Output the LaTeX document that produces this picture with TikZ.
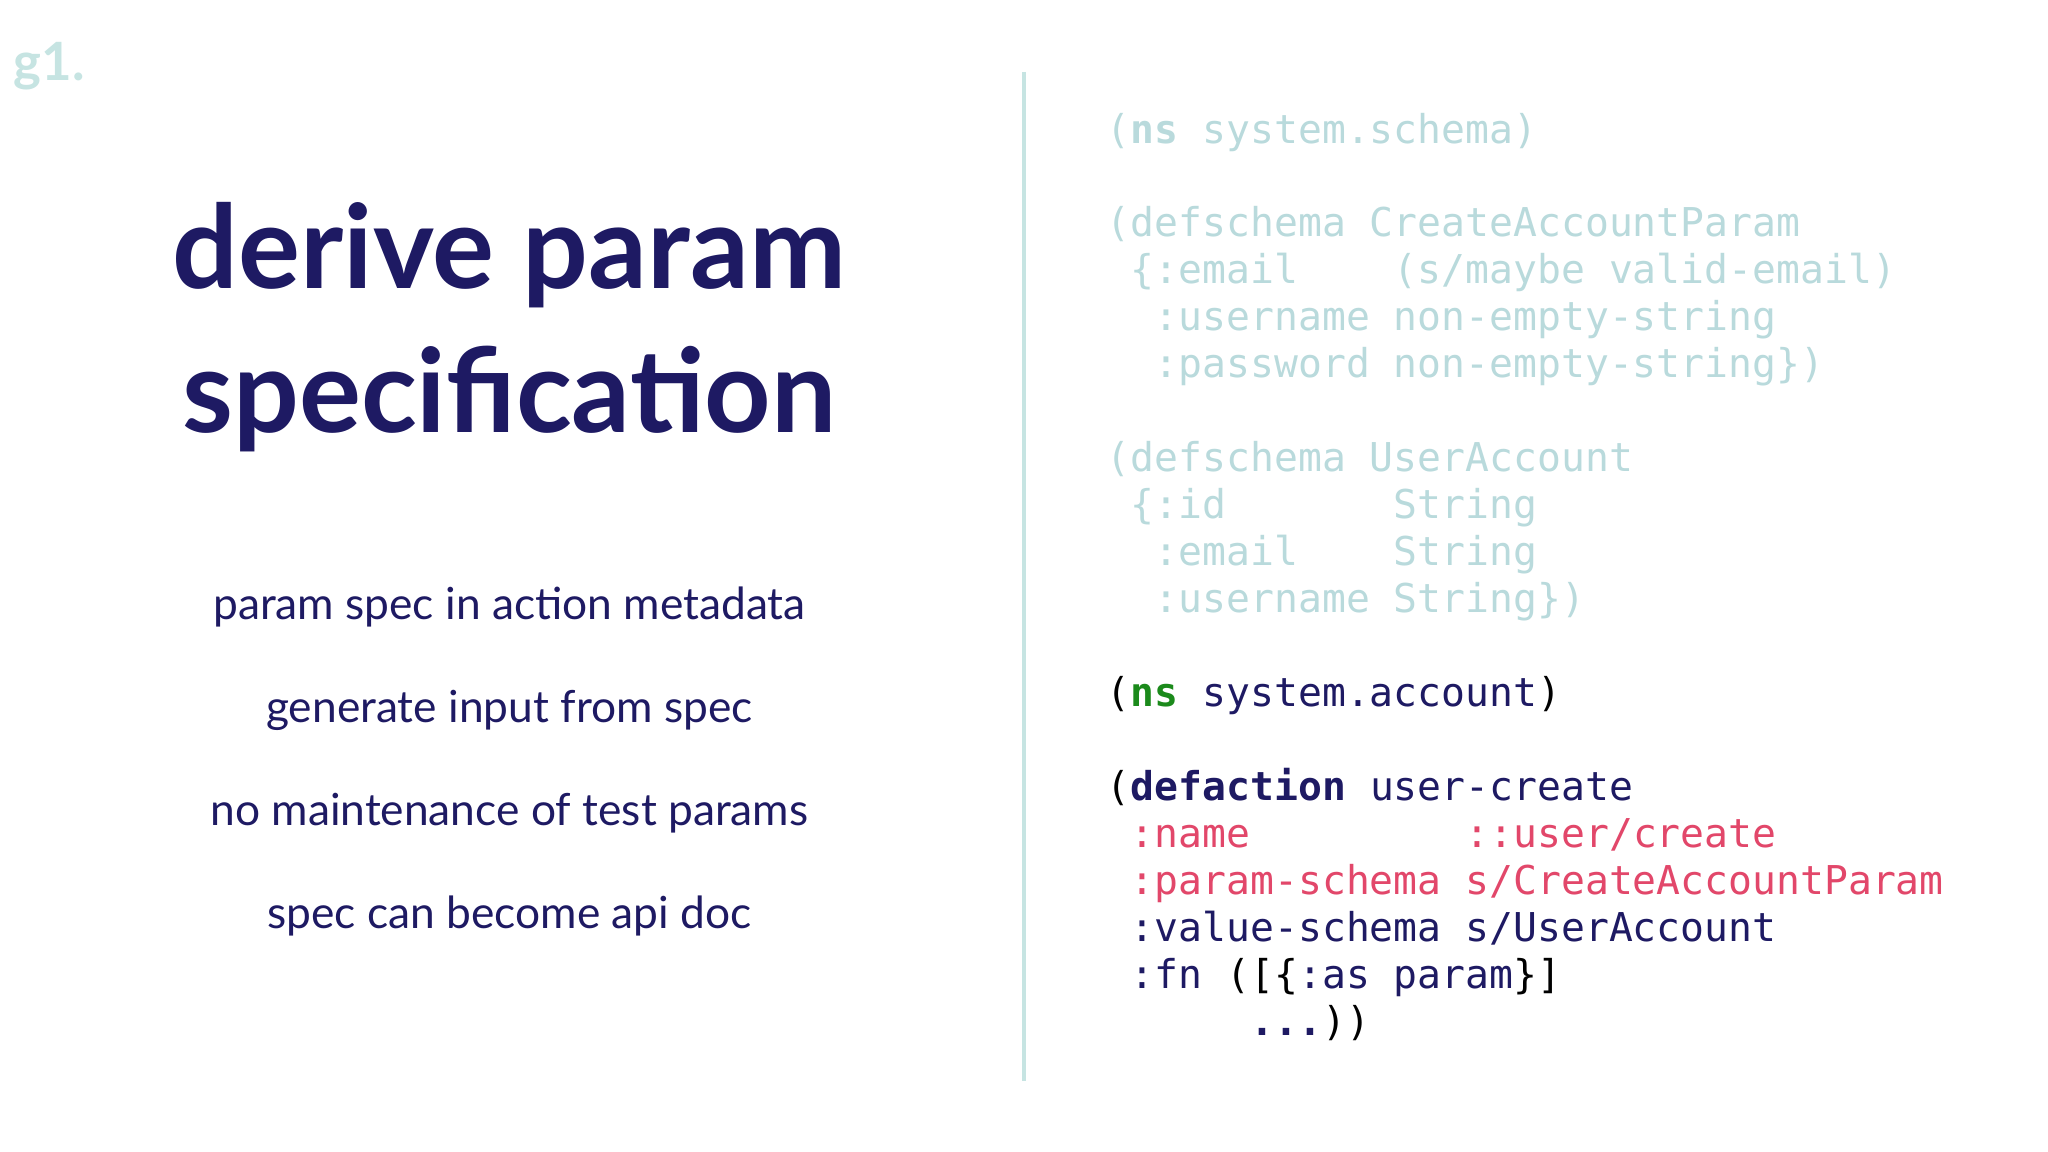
\documentclass[tikz,border=0pt]{standalone}
\usepackage{fontspec}
\setmainfont{Lato}
\setmonofont{DejaVu Sans Mono}
\definecolor{navy}{HTML}{1E1A63}
\definecolor{faded}{HTML}{B9DADC}
\definecolor{kred}{HTML}{E2476A}
\definecolor{kgreen}{HTML}{1B8A1B}
\definecolor{rule}{HTML}{C6E4E2}
\begin{document}
\begin{tikzpicture}[x=0.01306cm,y=-0.01306cm,
  title/.style={font=\fontsize{33}{40}\selectfont\bfseries, text=navy, align=center, anchor=base},
  bullet/.style={font=\fontsize{12.6}{15}\selectfont, text=navy, anchor=base},
  code/.style={font=\fontsize{11.3}{13}\ttfamily, anchor=base west, inner sep=0pt},
  fcode/.style={code, text=faded},
  ncode/.style={code, text=navy}]
\useasboundingbox[fill=white] (0,0) rectangle (1568,882);
\node[font=\fontsize{15}{18}\selectfont\bfseries, text=rule, anchor=base west, inner sep=0pt] (g) at (10,62) {g1.};
\node[title] (t1) at (390,221) {derive param};
\node[title] (t2) at (390,331) {specification};
\node[bullet] (b1) at (390,474) {param spec in action metadata};
\node[bullet] (b2) at (390,553) {generate input from spec};
\node[bullet] (b3) at (390,632) {no maintenance of test params};
\node[bullet] (b4) at (390,711) {spec can become api doc};
\coordinate (r1) at (784,55); \coordinate (r2) at (784,828);
\draw[rule, line width=1.2pt] (r1) -- (r2);
\node[fcode] (c1) at (847,110) {(\textbf{ns} system.schema)};
\node[fcode] (c2) at (847,181) {(defschema CreateAccountParam};
\node[fcode] (c3) at (847,217) {~\{:email~~~~(s/maybe valid-email)};
\node[fcode] (c4) at (847,253) {~~:username non-empty-string};
\node[fcode] (c5) at (847,289) {~~:password non-empty-string\})};
\node[fcode] (c6) at (847,361) {(defschema UserAccount};
\node[fcode] (c7) at (847,397) {~\{:id~~~~~~~String};
\node[fcode] (c8) at (847,433) {~~:email~~~~String};
\node[fcode] (c9) at (847,469) {~~:username String\})};
\node[code] (d1) at (847,541) {(\textcolor{kgreen}{\textbf{ns}} \textcolor{navy}{system.account})};
\node[code] (d2) at (847,613) {(\textcolor{navy}{\textbf{defaction} user-create}};
\node[code, text=kred] (d3) at (847,649) {~:name~~~~~~~~~::user/create};
\node[code, text=kred] (d4) at (847,685) {~:param-schema s/CreateAccountParam};
\node[ncode] (d5) at (847,721) {~:value-schema s/UserAccount};
\node[code] (d6) at (847,757) {~\textcolor{navy}{:fn} ([\{\textcolor{navy}{:as param}\}]};
\node[code] (d7) at (847,793) {~~~~~~\textcolor{navy}{\textbf{...}}))};
\end{tikzpicture}
\end{document}
